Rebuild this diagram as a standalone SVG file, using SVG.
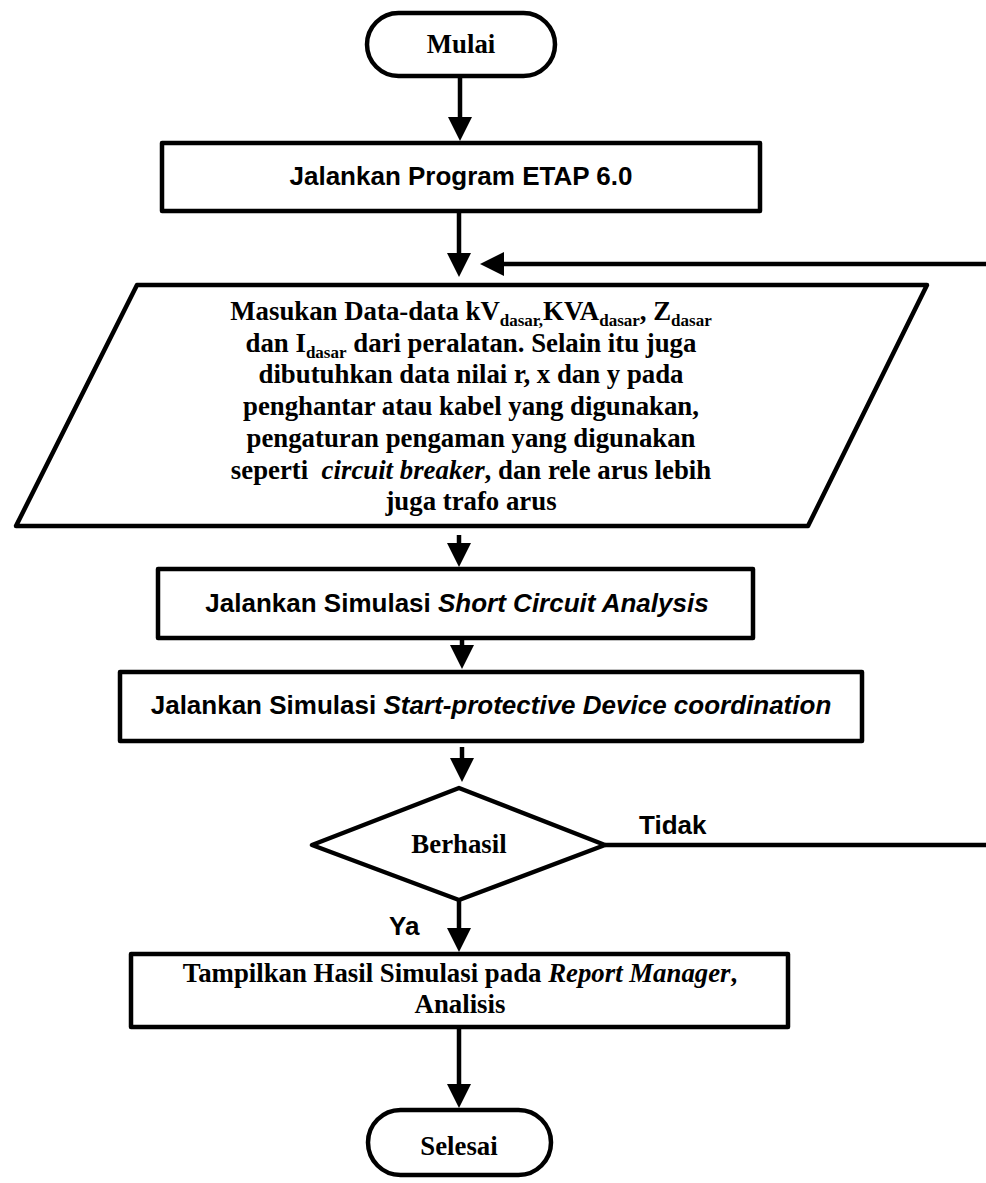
<svg xmlns="http://www.w3.org/2000/svg" width="986" height="1183" viewBox="0 0 986 1183">
<style>
.shape{fill:#fff;stroke:#000;stroke-width:4.5;stroke-linejoin:round}
.conn{fill:none;stroke:#000;stroke-width:4.5}
.tr{font-family:"Liberation Serif","Times New Roman",serif;font-weight:bold;font-size:26.8px;fill:#000}
.ar{font-family:"Liberation Sans",Arial,sans-serif;font-weight:bold;font-size:26px;fill:#000}
.sub{font-size:17px}
.it{font-style:italic}
</style>
<defs>
<marker id="ah" viewBox="0 0 24 24" refX="1" refY="12" markerWidth="24" markerHeight="24" markerUnits="userSpaceOnUse" orient="auto">
<path d="M0,0 L24,12 L0,24 Z" fill="#000"/>
</marker>
</defs>
<rect width="986" height="1183" fill="#fff"/>

<g id="connectors">
<line class="conn" x1="460" y1="78" x2="460" y2="118" marker-end="url(#ah)"/>
<line class="conn" x1="459" y1="213" x2="459" y2="254" marker-end="url(#ah)"/>
<line class="conn" x1="992" y1="264" x2="503" y2="264" marker-end="url(#ah)"/>
<line class="conn" x1="459" y1="535" x2="459" y2="544" marker-end="url(#ah)"/>
<line class="conn" x1="462" y1="640" x2="462" y2="646" marker-end="url(#ah)"/>
<line class="conn" x1="462" y1="747" x2="462" y2="759" marker-end="url(#ah)"/>
<line class="conn" x1="459" y1="900" x2="459" y2="929" marker-end="url(#ah)"/>
<line class="conn" x1="459" y1="1027" x2="459" y2="1085" marker-end="url(#ah)"/>
<line class="conn" x1="605" y1="845" x2="992" y2="845"/>
<text class="ar" x="639" y="834">Tidak</text>
<text class="ar" x="389" y="935">Ya</text>
</g>

<g id="mulai">
<rect class="shape" x="367" y="13" width="188" height="63" rx="31.5" ry="31.5"/>
<text class="tr" x="461" y="53" text-anchor="middle">Mulai</text>
</g>

<g id="jalankan-etap">
<rect class="shape" x="162" y="143" width="598" height="68"/>
<text class="ar" x="461" y="185" text-anchor="middle" font-size="26.5">Jalankan Program ETAP 6.0</text>
</g>

<g id="input-data">
<polygon class="shape" points="137,285 927,285 808,526 16,526"/>
<text class="tr" x="471" y="320" text-anchor="middle">Masukan Data-data kV<tspan class="sub" dy="6">dasar,</tspan><tspan dy="-6">KVA</tspan><tspan class="sub" dy="6">dasar</tspan><tspan dy="-6">, Z</tspan><tspan class="sub" dy="6">dasar</tspan></text>
<text class="tr" x="471" y="351.7" text-anchor="middle">dan I<tspan class="sub" dy="6">dasar</tspan><tspan dy="-6"> dari peralatan. Selain itu juga</tspan></text>
<text class="tr" x="471" y="383.4" text-anchor="middle">dibutuhkan data nilai r, x dan y pada</text>
<text class="tr" x="471" y="415.1" text-anchor="middle">penghantar atau kabel yang digunakan,</text>
<text class="tr" x="471" y="446.8" text-anchor="middle">pengaturan pengaman yang digunakan</text>
<text class="tr" x="471" y="478.5" text-anchor="middle" xml:space="preserve">seperti  <tspan class="it">circuit breaker</tspan>, dan rele arus lebih</text>
<text class="tr" x="471" y="510.2" text-anchor="middle">juga trafo arus</text>
</g>

<g id="short-circuit">
<rect class="shape" x="158" y="569" width="595" height="69"/>
<text class="ar" x="457" y="612" text-anchor="middle" font-size="26.5">Jalankan Simulasi <tspan class="it">Short Circuit Analysis</tspan></text>
</g>

<g id="protective-device">
<rect class="shape" x="120" y="672" width="742" height="69"/>
<text class="ar" x="491" y="714" text-anchor="middle" font-size="26.5">Jalankan Simulasi <tspan class="it">Start-protective Device coordination</tspan></text>
</g>

<g id="berhasil">
<polygon class="shape" points="459,788 605,845 459,900 312,845"/>
<text class="tr" x="459" y="853" text-anchor="middle">Berhasil</text>
</g>

<g id="tampilkan-hasil">
<rect class="shape" x="131" y="954" width="657" height="73"/>
<text class="tr" x="460" y="982" text-anchor="middle">Tampilkan Hasil Simulasi pada <tspan class="it">Report Manager</tspan>,</text>
<text class="tr" x="460" y="1013" text-anchor="middle">Analisis</text>
</g>

<g id="selesai">
<rect class="shape" x="368" y="1110" width="183" height="65" rx="32.5" ry="32.5"/>
<text class="tr" x="459" y="1155" text-anchor="middle">Selesai</text>
</g>
</svg>
